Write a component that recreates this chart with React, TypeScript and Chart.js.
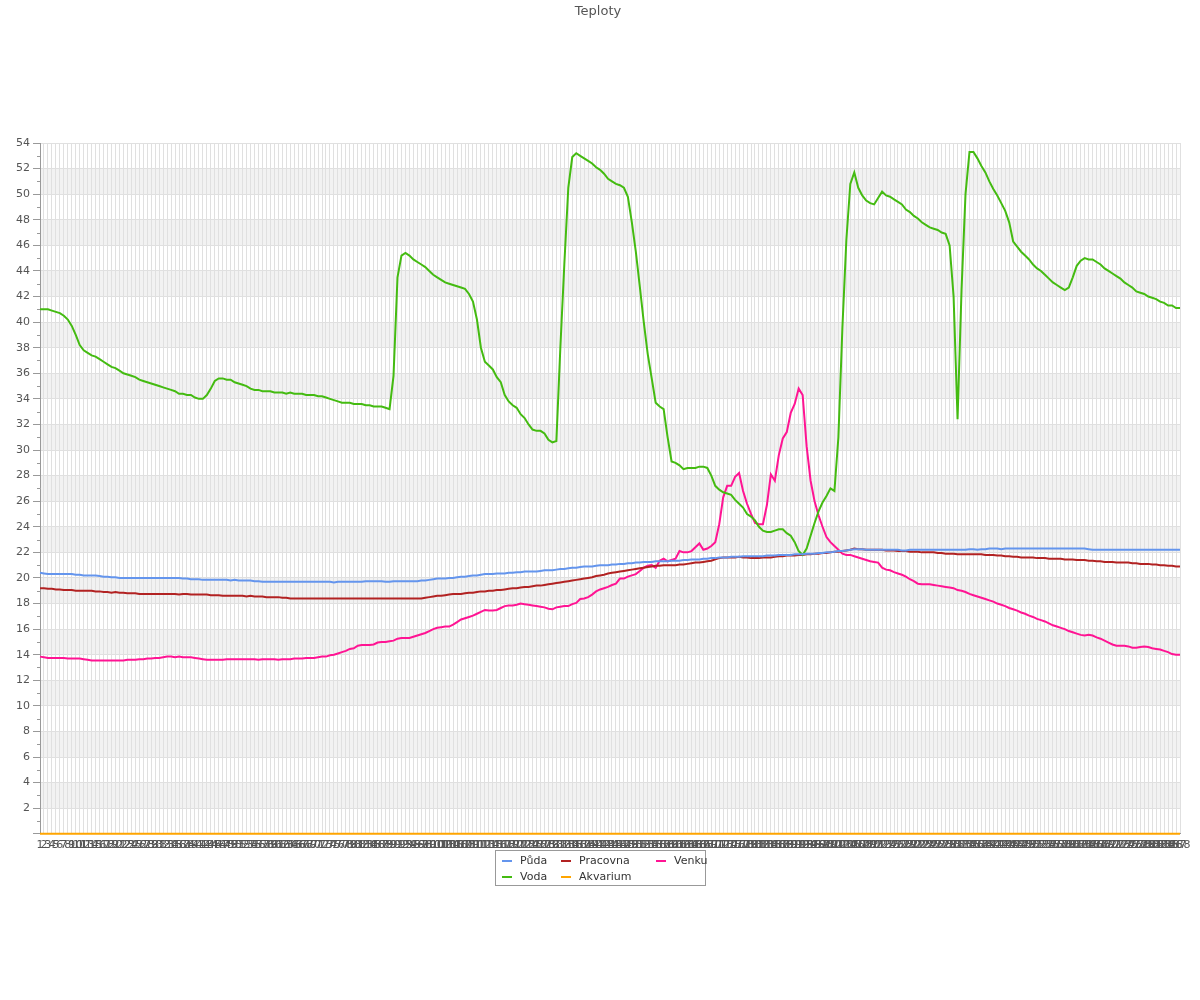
import React, { useEffect, useRef } from "react";
import { Chart, registerables } from "chart.js";

Chart.register(...registerables);

const TITLE = "Teploty";
const LABELS: string[] = Array.from({ length: 288 }, (_, i) => String(i + 1));

const Y_MIN = 0;
const Y_MAX = 54;

const PUDA = [
  20.4, 20.35, 20.3, 20.3, 20.3, 20.3, 20.3, 20.3, 20.3, 20.25,
  20.25, 20.2, 20.2, 20.2, 20.2, 20.15, 20.1, 20.1, 20.05, 20.05,
  20.0, 20.0, 20.0, 20.0, 20.0, 20.0, 20.0, 20.0, 20.0, 20.0,
  20.0, 20.0, 20.0, 20.0, 20.0, 20.0, 19.95, 19.95, 19.9, 19.9,
  19.9, 19.85, 19.85, 19.85, 19.85, 19.85, 19.85, 19.85, 19.8, 19.85,
  19.8, 19.8, 19.8, 19.8, 19.75, 19.75, 19.7, 19.7, 19.7, 19.7,
  19.7, 19.7, 19.7, 19.7, 19.7, 19.7, 19.7, 19.7, 19.7, 19.7,
  19.7, 19.7, 19.7, 19.7, 19.65, 19.7, 19.7, 19.7, 19.7, 19.7,
  19.7, 19.7, 19.75, 19.75, 19.75, 19.75, 19.75, 19.7, 19.7, 19.75,
  19.75, 19.75, 19.75, 19.75, 19.75, 19.75, 19.8, 19.8, 19.85, 19.9,
  19.95, 19.95, 19.95, 20.0, 20.0, 20.05, 20.1, 20.1, 20.15, 20.2,
  20.2, 20.25, 20.3, 20.3, 20.3, 20.35, 20.35, 20.35, 20.4, 20.4,
  20.45, 20.45, 20.5, 20.5, 20.5, 20.5, 20.55, 20.6, 20.6, 20.6,
  20.65, 20.7, 20.7, 20.75, 20.8, 20.8, 20.85, 20.9, 20.9, 20.9,
  20.95, 21.0, 21.0, 21.0, 21.05, 21.05, 21.1, 21.1, 21.15, 21.15,
  21.2, 21.2, 21.25, 21.25, 21.25, 21.3, 21.3, 21.3, 21.3, 21.35,
  21.35, 21.35, 21.4, 21.4, 21.45, 21.45, 21.45, 21.5, 21.5, 21.55,
  21.55, 21.6, 21.6, 21.6, 21.65, 21.65, 21.65, 21.7, 21.7, 21.7,
  21.7, 21.7, 21.7, 21.75, 21.75, 21.75, 21.8, 21.8, 21.8, 21.8,
  21.85, 21.85, 21.85, 21.9, 21.9, 21.9, 21.95, 21.95, 22.0, 22.0,
  22.05, 22.1, 22.1, 22.15, 22.2, 22.25, 22.25, 22.25, 22.2, 22.2,
  22.2, 22.2, 22.2, 22.2, 22.2, 22.2, 22.2, 22.15, 22.15, 22.2,
  22.2, 22.2, 22.2, 22.2, 22.2, 22.2, 22.2, 22.2, 22.2, 22.2,
  22.2, 22.2, 22.2, 22.2, 22.25, 22.25, 22.2, 22.25, 22.25, 22.3,
  22.3, 22.3, 22.25, 22.3, 22.3, 22.3, 22.3, 22.3, 22.3, 22.3,
  22.3, 22.3, 22.3, 22.3, 22.3, 22.3, 22.3, 22.3, 22.3, 22.3,
  22.3, 22.3, 22.3, 22.3, 22.25, 22.2, 22.2, 22.2, 22.2, 22.2,
  22.2, 22.2, 22.2, 22.2, 22.2, 22.2, 22.2, 22.2, 22.2, 22.2,
  22.2, 22.2, 22.2, 22.2, 22.2, 22.2, 22.2, 22.2,
];

const VODA = [
  41.0, 41.0, 41.0, 40.9, 40.8, 40.7, 40.5, 40.2, 39.7, 39.0,
  38.2, 37.8, 37.6, 37.4, 37.3, 37.1, 36.9, 36.7, 36.5, 36.4,
  36.2, 36.0, 35.9, 35.8, 35.7, 35.5, 35.4, 35.3, 35.2, 35.1,
  35.0, 34.9, 34.8, 34.7, 34.6, 34.4, 34.4, 34.3, 34.3, 34.1,
  34.0, 34.0, 34.3, 34.8, 35.4, 35.6, 35.6, 35.5, 35.5, 35.3,
  35.2, 35.1, 35.0, 34.8, 34.7, 34.7, 34.6, 34.6, 34.6, 34.5,
  34.5, 34.5, 34.4, 34.5, 34.4, 34.4, 34.4, 34.3, 34.3, 34.3,
  34.2, 34.2, 34.1, 34.0, 33.9, 33.8, 33.7, 33.7, 33.7, 33.6,
  33.6, 33.6, 33.5, 33.5, 33.4, 33.4, 33.4, 33.3, 33.2, 35.8,
  43.5, 45.2, 45.4, 45.2, 44.9, 44.7, 44.5, 44.3, 44.0, 43.7,
  43.5, 43.3, 43.1, 43.0, 42.9, 42.8, 42.7, 42.6, 42.2, 41.6,
  40.2, 38.0, 36.9, 36.6, 36.3, 35.7, 35.3, 34.3, 33.8, 33.5,
  33.3, 32.8, 32.5, 32.0, 31.6, 31.5, 31.5, 31.3, 30.8, 30.6,
  30.7, 38.0, 44.5, 50.5, 52.9, 53.2, 53.0, 52.8, 52.6, 52.4,
  52.1, 51.9, 51.6, 51.2, 51.0, 50.8, 50.7, 50.5, 49.8, 47.8,
  45.5, 42.8, 40.0, 37.5, 35.6, 33.7, 33.4, 33.2, 31.0, 29.1,
  29.0, 28.8, 28.5, 28.6, 28.6, 28.6, 28.7, 28.7, 28.6, 28.0,
  27.2, 26.9, 26.7, 26.6, 26.5, 26.1, 25.8, 25.5, 25.0, 24.8,
  24.5, 24.0, 23.7, 23.6, 23.6, 23.7, 23.8, 23.8, 23.5, 23.3,
  22.8, 22.1, 21.8, 22.3, 23.3, 24.3, 25.2, 25.9, 26.4, 27.0,
  26.8, 31.0, 39.5, 46.4, 50.8, 51.7, 50.5, 49.9, 49.5, 49.3,
  49.2, 49.7, 50.2, 49.9, 49.8, 49.6, 49.4, 49.2, 48.8, 48.6,
  48.3, 48.1, 47.8, 47.6, 47.4, 47.3, 47.2, 47.0, 46.9, 46.0,
  42.0, 32.4, 42.5, 50.0, 53.3, 53.3, 52.8, 52.2, 51.7, 51.0,
  50.4, 49.9, 49.3, 48.7, 47.8, 46.3, 45.9, 45.5, 45.2, 44.9,
  44.5, 44.2, 44.0, 43.7, 43.4, 43.1, 42.9, 42.7, 42.5, 42.7,
  43.5, 44.4, 44.8, 45.0, 44.9, 44.9, 44.7, 44.5, 44.2, 44.0,
  43.8, 43.6, 43.4, 43.1, 42.9, 42.7, 42.4, 42.3, 42.2, 42.0,
  41.9, 41.8, 41.6, 41.5, 41.3, 41.3, 41.1, 41.1,
];

const PRACOVNA = [
  19.2, 19.2, 19.15, 19.15, 19.1, 19.1, 19.05, 19.05, 19.05, 19.0,
  19.0, 19.0, 19.0, 19.0, 18.95, 18.95, 18.9, 18.9, 18.85, 18.9,
  18.85, 18.85, 18.8, 18.8, 18.8, 18.75, 18.75, 18.75, 18.75, 18.75,
  18.75, 18.75, 18.75, 18.75, 18.75, 18.7, 18.75, 18.75, 18.7, 18.7,
  18.7, 18.7, 18.7, 18.65, 18.65, 18.65, 18.6, 18.6, 18.6, 18.6,
  18.6, 18.6, 18.55, 18.6, 18.55, 18.55, 18.55, 18.5, 18.5, 18.5,
  18.5, 18.45, 18.45, 18.4, 18.4, 18.4, 18.4, 18.4, 18.4, 18.4,
  18.4, 18.4, 18.4, 18.4, 18.4, 18.4, 18.4, 18.4, 18.4, 18.4,
  18.4, 18.4, 18.4, 18.4, 18.4, 18.4, 18.4, 18.4, 18.4, 18.4,
  18.4, 18.4, 18.4, 18.4, 18.4, 18.4, 18.4, 18.45, 18.5, 18.55,
  18.6, 18.6, 18.65, 18.7, 18.75, 18.75, 18.75, 18.8, 18.85, 18.85,
  18.9, 18.95, 18.95, 19.0, 19.0, 19.05, 19.05, 19.1, 19.15, 19.2,
  19.2, 19.25, 19.3, 19.3, 19.35, 19.4, 19.4, 19.45, 19.5, 19.55,
  19.6, 19.65, 19.7, 19.75, 19.8, 19.85, 19.9, 19.95, 20.0, 20.05,
  20.15, 20.2, 20.25, 20.35, 20.4, 20.45, 20.5, 20.55, 20.6, 20.65,
  20.7, 20.75, 20.8, 20.85, 20.9, 20.95, 20.95, 21.0, 21.0, 21.0,
  21.0, 21.05, 21.05, 21.1, 21.15, 21.2, 21.2, 21.25, 21.3, 21.35,
  21.45, 21.55, 21.6, 21.6, 21.6, 21.6, 21.65, 21.6, 21.6, 21.55,
  21.55, 21.55, 21.6, 21.6, 21.6, 21.65, 21.7, 21.7, 21.75, 21.75,
  21.75, 21.8, 21.8, 21.85, 21.85, 21.9, 21.9, 21.95, 21.95, 22.0,
  22.05, 22.05, 22.1, 22.15, 22.2, 22.3, 22.25, 22.25, 22.2, 22.2,
  22.2, 22.2, 22.2, 22.15, 22.15, 22.15, 22.1, 22.1, 22.1, 22.05,
  22.05, 22.05, 22.0, 22.0, 22.0, 22.0, 21.95, 21.95, 21.9, 21.9,
  21.9, 21.85, 21.85, 21.85, 21.85, 21.85, 21.85, 21.85, 21.8, 21.8,
  21.8, 21.75, 21.75, 21.7, 21.7, 21.65, 21.65, 21.6, 21.6, 21.6,
  21.6, 21.55, 21.55, 21.55, 21.5, 21.5, 21.5, 21.5, 21.45, 21.45,
  21.45, 21.4, 21.4, 21.4, 21.35, 21.35, 21.3, 21.3, 21.25, 21.25,
  21.25, 21.2, 21.2, 21.2, 21.2, 21.15, 21.15, 21.1, 21.1, 21.1,
  21.05, 21.05, 21.0, 21.0, 20.95, 20.95, 20.9, 20.9,
];

const AKVARIUM: number[] = LABELS.map(() => 0);

const VENKU = [
  13.85, 13.8, 13.75, 13.75, 13.75, 13.75, 13.75, 13.7, 13.7, 13.7,
  13.7, 13.65, 13.6, 13.55, 13.55, 13.55, 13.55, 13.55, 13.55, 13.55,
  13.55, 13.55, 13.6, 13.6, 13.6, 13.65, 13.65, 13.7, 13.7, 13.75,
  13.75, 13.8, 13.85, 13.85, 13.8, 13.85, 13.8, 13.8, 13.8, 13.75,
  13.7, 13.65, 13.6, 13.6, 13.6, 13.6, 13.6, 13.65, 13.65, 13.65,
  13.65, 13.65, 13.65, 13.65, 13.65, 13.6, 13.65, 13.65, 13.65, 13.65,
  13.6, 13.65, 13.65, 13.65, 13.7, 13.7, 13.7, 13.75, 13.75, 13.75,
  13.8, 13.85, 13.85, 13.95, 14.0, 14.1, 14.2, 14.3, 14.45, 14.5,
  14.7, 14.75, 14.75, 14.75, 14.8, 14.95, 15.0, 15.0, 15.05, 15.1,
  15.25, 15.3, 15.3, 15.3, 15.4, 15.5, 15.6, 15.7, 15.85, 16.0,
  16.1, 16.15, 16.2, 16.2, 16.35, 16.55, 16.75, 16.85, 16.95, 17.05,
  17.2, 17.35, 17.5, 17.45, 17.45, 17.5, 17.65, 17.8, 17.85, 17.85,
  17.9, 18.0, 17.95, 17.9, 17.85, 17.8, 17.75, 17.7, 17.6, 17.55,
  17.7, 17.75, 17.8, 17.8, 17.95, 18.05, 18.35, 18.4, 18.5, 18.7,
  18.95, 19.1, 19.2, 19.3, 19.45, 19.55, 19.95, 19.95, 20.1, 20.2,
  20.3, 20.55, 20.8, 20.95, 21.0, 20.8, 21.35, 21.5, 21.3, 21.4,
  21.5, 22.1, 22.0, 22.0, 22.1, 22.4, 22.7, 22.2, 22.3, 22.5,
  22.8, 24.2, 26.3, 27.2, 27.2, 27.9, 28.2, 26.8, 25.8, 25.0,
  24.3, 24.2, 24.2, 25.7, 28.1, 27.6, 29.6, 30.9, 31.4, 32.9,
  33.6, 34.8, 34.3, 30.3, 27.6, 26.0, 24.9, 24.0, 23.2, 22.8,
  22.5, 22.2, 21.9, 21.8, 21.8, 21.7, 21.6, 21.5, 21.4, 21.3,
  21.25, 21.2, 20.8, 20.65, 20.6, 20.45, 20.35, 20.25, 20.1, 19.9,
  19.75, 19.55, 19.5, 19.5, 19.5, 19.45, 19.4, 19.35, 19.3, 19.25,
  19.2, 19.05, 19.0, 18.9, 18.75, 18.65, 18.55, 18.45, 18.35, 18.25,
  18.15, 18.0, 17.9, 17.8, 17.65, 17.55, 17.45, 17.3, 17.2, 17.05,
  16.95, 16.8, 16.7, 16.6, 16.45, 16.3, 16.2, 16.1, 16.0, 15.85,
  15.75, 15.65, 15.55, 15.5, 15.55, 15.5, 15.35, 15.25, 15.1, 14.95,
  14.8, 14.7, 14.7, 14.7, 14.65, 14.55, 14.55, 14.6, 14.65, 14.6,
  14.5, 14.45, 14.4, 14.3, 14.2, 14.05, 14.0, 14.0,
];

const SERIES_NAMES = ["Půda", "Voda", "Pracovna", "Akvarium", "Venku"];
const SERIES_COLORS = ["#6495ED", "#44BB11", "#B22222", "#FFA500", "#FF1493"];
const SERIES_DATA = [PUDA, VODA, PRACOVNA, AKVARIUM, VENKU];

const FONT = "'DejaVu Sans', sans-serif";
const GRID = "#e0e0e0";
const BAND = "#f2f2f2";
const AXIS = "#999999";
const TEXT = "#555555";

const bandsPlugin = {
  id: "bands",
  beforeDraw(chart: any) {
    const { ctx, chartArea } = chart;
    const y = chart.scales.y;
    ctx.save();
    ctx.fillStyle = BAND;
    for (let v = 2; v < Y_MAX - 2; v += 4) {
      const top = y.getPixelForValue(v + 2);
      const bottom = y.getPixelForValue(v);
      ctx.fillRect(chartArea.left, top, chartArea.right - chartArea.left, bottom - top);
    }
    ctx.restore();
  },
  afterDraw(chart: any) {
    const { ctx, chartArea } = chart;
    const y = chart.scales.y;
    ctx.save();
    ctx.strokeStyle = AXIS;
    ctx.lineWidth = 1;
    ctx.beginPath();
    for (let v = 1; v < Y_MAX; v += 2) {
      const py = Math.round(y.getPixelForValue(v)) + 0.5;
      ctx.moveTo(chartArea.left - 3, py);
      ctx.lineTo(chartArea.left, py);
    }
    ctx.stroke();
    ctx.restore();
  },
};

const LEGEND_POS = [
  { col: 0, row: 0 },
  { col: 0, row: 1 },
  { col: 1, row: 0 },
  { col: 1, row: 1 },
  { col: 2, row: 0 },
];
const LEGEND_COL_X = [502, 561, 656];
const LEGEND_ROW_Y = [861, 877];

export default function App() {
  const ref = useRef<HTMLCanvasElement | null>(null);

  useEffect(() => {
    if (!ref.current) return;
    const chart = new Chart(ref.current, {
      type: "line",
      data: {
        labels: LABELS,
        datasets: SERIES_NAMES.map((name, i) => ({
          label: name,
          data: SERIES_DATA[i],
          borderColor: SERIES_COLORS[i],
          backgroundColor: SERIES_COLORS[i],
          borderWidth: 2,
          pointRadius: 0,
          pointHoverRadius: 0,
          tension: 0,
          fill: false,
          clip: 3,
        })),
      },
      options: {
        animation: false,
        responsive: false,
        devicePixelRatio: 1,
        layout: { padding: { left: 0, right: 20, top: 143, bottom: 143 } },
        plugins: {
          legend: { display: false },
          tooltip: { enabled: false },
          title: { display: false },
        },
        scales: {
          x: {
            type: "category",
            offset: false,
            grid: { color: GRID, drawTicks: false, lineWidth: 1 },
            border: { color: AXIS },
            ticks: {
              autoSkip: false,
              maxRotation: 0,
              minRotation: 0,
              padding: 5,
              color: TEXT,
              font: { family: FONT, size: 11 },
            },
          },
          y: {
            min: Y_MIN,
            max: Y_MAX,
            afterFit: (scale: any) => {
              scale.width = 40;
            },
            grid: {
              color: (c: any) => (c.tick && c.tick.value % 2 === 0 ? GRID : "rgba(0,0,0,0)"),
              tickColor: (c: any) => (c.tick && c.tick.value % 2 === 0 ? AXIS : "rgba(0,0,0,0)"),
              tickLength: 7,
            },
            border: { color: AXIS },
            ticks: {
              stepSize: 1,
              autoSkip: false,
              padding: 3,
              color: TEXT,
              font: { family: FONT, size: 11 },
              callback: (v: any) => (Number(v) % 2 === 0 && Number(v) !== 0 ? String(v) : ""),
            },
          },
        },
      },
      plugins: [bandsPlugin],
    });
    return () => chart.destroy();
  }, []);

  return (
    <div style={{ position: "absolute", left: 0, top: 0, width: 1200, height: 1000, background: "#fff" }}>
      <canvas ref={ref} width={1200} height={1000} style={{ display: "block" }} />
      <div
        style={{
          position: "absolute",
          left: 0,
          top: 3,
          width: 1196,
          textAlign: "center",
          fontFamily: FONT,
          fontSize: 13,
          lineHeight: "16px",
          color: TEXT,
        }}
      >
        {TITLE}
      </div>
      <div
        style={{
          position: "absolute",
          left: 495,
          top: 850,
          width: 211,
          height: 36,
          border: "1px solid #999",
          background: "#fff",
          boxSizing: "border-box",
        }}
      />
      {SERIES_NAMES.map((name, i) => {
        const p = LEGEND_POS[i];
        const x = LEGEND_COL_X[p.col];
        const y = LEGEND_ROW_Y[p.row];
        return (
          <React.Fragment key={name}>
            <div
              style={{
                position: "absolute",
                left: x,
                top: y - 1,
                width: 10,
                height: 2,
                background: SERIES_COLORS[i],
              }}
            />
            <div
              style={{
                position: "absolute",
                left: x + 18,
                top: y - 8,
                height: 16,
                lineHeight: "16px",
                fontFamily: FONT,
                fontSize: 11,
                color: "#333",
                whiteSpace: "nowrap",
              }}
            >
              {name}
            </div>
          </React.Fragment>
        );
      })}
    </div>
  );
}
